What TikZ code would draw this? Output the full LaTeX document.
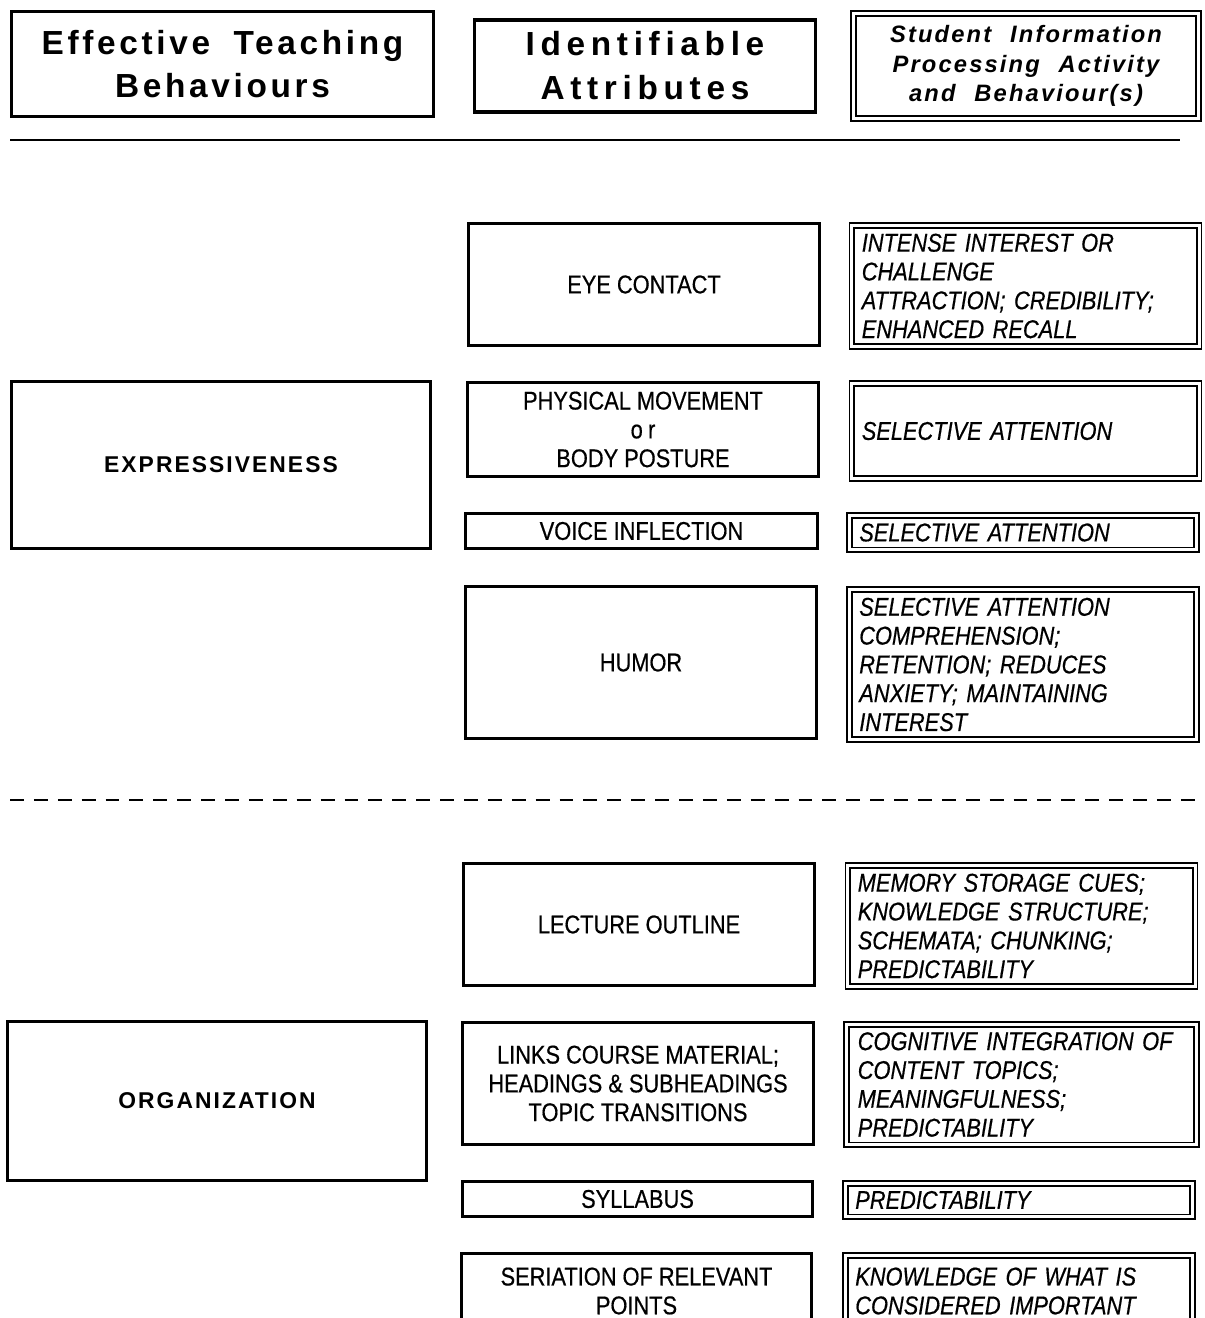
\documentclass[tikz,border=0pt]{standalone}
\usepackage{fontspec}
\setmainfont{Liberation Sans}
\newfontfamily\condfont[FakeStretch=0.85,FakeBold=0.5]{Liberation Sans}
\newfontfamily\hdrfontA[LetterSpace=11]{Liberation Sans}
\newfontfamily\hdrfontB[LetterSpace=17]{Liberation Sans}
\newfontfamily\hdrfontC[LetterSpace=9]{Liberation Sans}
\newfontfamily\lblfont[LetterSpace=9]{Liberation Sans}
\begin{document}
\begin{tikzpicture}[x=0.02cm,y=-0.02cm,
  sbox/.style={draw, line width=1.8pt, align=center, inner sep=0pt},
  dbox/.style={draw, line width=0.95pt, double, double distance=1.8pt, inner xsep=0.2cm, inner ysep=0pt},
  mtext/.style={font=\condfont\fontsize{14.6}{16.4}\selectfont},
  rtext/.style={font=\condfont\itshape\fontsize{14.6}{16.4}\selectfont, text width=6.55cm, align=left},
  ltext/.style={font=\lblfont\bfseries\fontsize{13}{16}\selectfont},
  sepline/.style={line width=0.7pt},
  dashline/.style={line width=1.1pt, dash pattern=on 7.9pt off 5.7pt}]
\fill[white] (0,0) rectangle (1204,1318);
\useasboundingbox (0,0) rectangle (1204,1318);

% headers
\node[sbox, minimum width=8.44cm, minimum height=2.10cm,
  font=\hdrfontA\bfseries\fontsize{19}{24.4}\selectfont] (h1) at (222.5,64)
  {Effective\hspace{0.7em}Teaching\\Behaviours};
\node[sbox, minimum width=6.82cm, minimum height=1.84cm,
  font=\hdrfontB\bfseries\fontsize{19}{25}\selectfont] (h2) at (645,66)
  {Identifiable\\Attributes};
\node[dbox, align=center, minimum width=6.91cm, minimum height=2.11cm,
  font=\hdrfontC\bfseries\itshape\fontsize{13.5}{16.7}\selectfont] (h3) at (1026,66)
  {Student\hspace{0.8em}Information\\Processing\hspace{0.8em}Activity\\and\hspace{0.8em}Behaviour(s)};

\coordinate (t1) at (10,140);
\coordinate (t2) at (1180,140);
\draw[sepline] (t1) -- (t2);

% left column
\node[sbox, ltext, minimum width=8.38cm, minimum height=3.34cm] (l1) at (221,465) {EXPRESSIVENESS};
\node[sbox, ltext, minimum width=8.38cm, minimum height=3.18cm] (l2) at (217,1101) {ORGANIZATION};

% middle column
\node[sbox, mtext, minimum width=7.02cm, minimum height=2.44cm] (m1) at (644,284.5) {EYE CONTACT};
\node[sbox, mtext, minimum width=7.02cm, minimum height=1.88cm] (m2) at (643,429.5) {PHYSICAL MOVEMENT\\o\hspace{3pt}r\\BODY POSTURE};
\node[sbox, mtext, minimum width=7.04cm, minimum height=0.70cm] (m3) at (641.5,531) {VOICE INFLECTION};
\node[sbox, mtext, minimum width=7.02cm, minimum height=3.04cm] (m4) at (641,662.5) {HUMOR};
\node[sbox, mtext, minimum width=7.02cm, minimum height=2.44cm] (m5) at (639,924.5) {LECTURE OUTLINE};
\node[sbox, mtext, minimum width=7.02cm, minimum height=2.44cm] (m6) at (638,1083.5) {LINKS COURSE MATERIAL;\\HEADINGS \& SUBHEADINGS\\TOPIC TRANSITIONS};
\node[sbox, mtext, minimum width=7.00cm, minimum height=0.70cm] (m7) at (637.5,1199) {SYLLABUS};
\node[sbox, mtext, minimum width=7.00cm, minimum height=1.50cm] (m8) at (636.5,1291) {SERIATION OF RELEVANT\\POINTS};

% right column
\node[dbox, rtext, minimum width=6.93cm, minimum height=2.43cm] (r1) at (1025.5,286) {INTENSE INTEREST OR\\CHALLENGE\\ATTRACTION; CREDIBILITY;\\ENHANCED RECALL};
\node[dbox, rtext, minimum width=6.93cm, minimum height=1.91cm] (r2) at (1025.5,431) {SELECTIVE ATTENTION};
\node[dbox, rtext, minimum width=6.95cm, minimum height=0.69cm] (r3) at (1023,532.5) {SELECTIVE ATTENTION};
\node[dbox, rtext, minimum width=6.95cm, minimum height=3.01cm] (r4) at (1023,664.5) {SELECTIVE ATTENTION\\COMPREHENSION;\\RETENTION; REDUCES\\ANXIETY; MAINTAINING\\INTEREST};
\node[dbox, rtext, minimum width=6.93cm, minimum height=2.43cm] (r5) at (1021.5,926) {MEMORY STORAGE CUES;\\KNOWLEDGE STRUCTURE;\\SCHEMATA; CHUNKING;\\PREDICTABILITY};
\node[dbox, rtext, minimum width=7.01cm, minimum height=2.41cm] (r6) at (1021.5,1084.5) {COGNITIVE INTEGRATION OF\\CONTENT TOPICS;\\MEANINGFULNESS;\\PREDICTABILITY};
\node[dbox, rtext, minimum width=6.95cm, minimum height=0.67cm] (r7) at (1019,1200) {PREDICTABILITY};
\node[dbox, rtext, minimum width=6.95cm, minimum height=1.43cm] (r8) at (1019,1291) {KNOWLEDGE OF WHAT IS\\CONSIDERED IMPORTANT};

\coordinate (d1) at (10,800);
\coordinate (d2) at (1204,800);
\draw[dashline] (d1) -- (d2);
\end{tikzpicture}
\end{document}
